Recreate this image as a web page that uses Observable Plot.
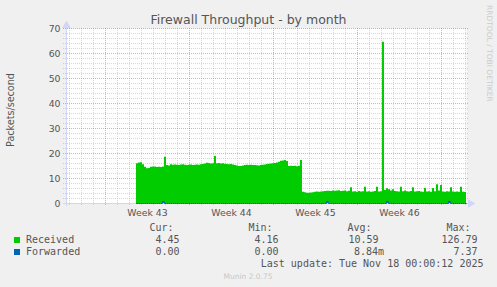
<!DOCTYPE html>
<html><head><meta charset="utf-8">
<script src="https://cdn.jsdelivr.net/npm/d3@7"></script>
<script src="https://cdn.jsdelivr.net/npm/@observablehq/plot@0.6"></script>
<style>
html,body{margin:0;padding:0;background:#f0f0f0;}
#chart{position:relative;width:497px;height:287px;overflow:hidden;background:#f0f0f0;}
</style></head><body><div id="chart"></div>
<script>
// ---- data ----
const title = "Firewall Throughput - by month";
const yLabel = "Packets/second";
const domainStart = "2025-10-15T18:00:00Z";
const domainEnd = "2025-11-18T02:00:00Z";
const startTime = "2025-10-21T14:00:00Z"; // first sample
const stepHours = 4;
const received = [
  15.9,16.2,16.3,15.5,14.5,13.9,14.0,14.5,14.6,14.6,14.4,14.5,14.4,14.6,
  18.5,15.2,15.0,15.5,
  15.3,15.4,15.3,15.2,15.4,15.5,15.3,15.2,15.3,15.4,15.2,15.3,15.4,15.3,
  15.5,15.6,15.8,16.1,16.0,15.8,15.9,
  18.8,
  15.9,16.0,15.8,15.9,15.7,15.6,15.5,15.6,15.4,
  15.2,15.0,14.8,14.8,15.0,15.2,15.3,15.2,15.3,15.2,
  15.2,15.1,15.0,15.2,15.3,15.4,15.6,15.7,15.8,15.9,
  16.0,16.2,16.5,16.9,17.0,17.2,16.8,
  14.8,14.9,14.8,14.9,14.7,14.9,
  17.2,
  4.5,4.3,4.1,4.1,4.2,4.3,4.5,4.6,4.5,4.6,4.7,4.8,4.9,
  4.9,4.8,5.0,4.9,5.0,5.1,4.8,4.9,5.0,4.7,4.9,6.3,
  4.6,4.7,4.5,4.8,4.6,4.7,6.5,4.6,4.7,4.5,4.6,4.8,6.5,4.6,4.7,
  64.5,
  5.2,5.9,5.5,5.0,5.5,4.8,4.7,4.6,
  6.5,
  4.7,5.0,4.7,4.6,4.8,
  6.3,
  4.6,4.7,4.8,4.6,4.5,
  6.0,
  4.6,4.7,4.5,
  6.0,
  4.7,
  7.5,
  5.0,
  7.2,
  4.6,4.5,4.7,4.6,
  6.3,
  4.6,4.5,4.6,4.5,
  6.5,
  4.5,4.45
];
const forwardedIdx = [13, 95, 125, 156];
const forwardedVal = [0.8, 0.7, 0.8, 0.8];
const yTicks = [0, 10, 20, 30, 40, 50, 60, 70];
const weekLabels = ["Week 43", "Week 44", "Week 45", "Week 46"];
const weekLabelTimes = ["2025-10-22T12:00:00Z", "2025-10-29T12:00:00Z", "2025-11-05T12:00:00Z", "2025-11-12T12:00:00Z"];
const legendSeries = ["Received", "Forwarded"];
const legendColors = ["#00cc00", "#0066b3"];
const statHeaders = ["Cur:", "Min:", "Avg:", "Max:"];
const statsReceived = ["4.45", "4.16", "10.59", "126.79"];
const statsForwarded = ["0.00", "0.00", "8.84m", "7.37"];
const lastUpdate = "Last update: Tue Nov 18 00:00:12 2025";
const footer = "Munin 2.0.75";
const watermark = "RRDTOOL / TOBI OETIKER";

// ---- build tables ----
const H = 3600e3;
const t0 = new Date(startTime).getTime();
const recRows = received.map((v, i) => ({t: new Date(t0 + i * stepHours * H), v}));
recRows.push({t: new Date(t0 + received.length * stepHours * H), v: received[received.length - 1]});
const fwdRows = recRows.map(r => ({t: r.t, v: 0}));
forwardedIdx.forEach((k, j) => { fwdRows[k].v = forwardedVal[j]; });

const d0 = new Date(domainStart), d1 = new Date(domainEnd);
const days = d3.utcDay.range(d0, d1);
const sundays = d3.utcSunday.range(d0, d1);
const minorDays = days.filter(d => d.getUTCDay() !== 0);
const minorY = d3.range(2, 71, 2).filter(v => v % 10 !== 0);
const majorY = yTicks.filter(v => v !== 0);
const weekDates = weekLabelTimes.map(s => new Date(s));
const labelMap = new Map(weekDates.map((d, i) => [+d, weekLabels[i]]));

const AXIS = "#cfd6f8";
const MINOR = "rgba(140,140,140,0.35)";
const MAJOR = "rgba(230,0,0,0.35)";

const plot = Plot.plot({
  width: 497, height: 287,
  marginTop: 28, marginBottom: 84, marginLeft: 66, marginRight: 31,
  style: {background: "transparent", fontFamily: "DejaVu Sans", fontSize: "9.33px", color: "#555", overflow: "visible"},
  x: {type: "utc", domain: [d0, d1], ticks: weekDates, tickFormat: d => labelMap.get(+d), tickSize: 0, tickPadding: 6, label: null},
  y: {domain: [0, 70], ticks: yTicks, tickSize: 0, tickPadding: 6, label: null},
  marks: [
    Plot.frame({fill: "white", stroke: null}),
    Plot.ruleX(minorDays, {stroke: MINOR, strokeDasharray: "1,1", insetBottom: -3}),
    Plot.ruleY(minorY, {stroke: MINOR, strokeDasharray: "1,1", insetLeft: -3, insetRight: -3}),
    Plot.ruleX(sundays, {stroke: MAJOR, strokeDasharray: "1,1", insetBottom: -3}),
    Plot.ruleY(majorY, {stroke: MAJOR, strokeDasharray: "1,1", insetLeft: -3, insetRight: -3}),
    Plot.areaY(recRows, {x: "t", y: "v", curve: "step-after", fill: legendColors[0]}),
    Plot.ruleY([0], {stroke: AXIS, insetLeft: -3, insetRight: -4}),
    Plot.ruleX([d0], {stroke: AXIS, insetTop: -3, insetBottom: -3}),
    Plot.areaY(fwdRows, {x: "t", y: "v", curve: "step-after", fill: legendColors[1]}),
    Plot.lineY(fwdRows, {x: "t", y: "v", curve: "step-after", stroke: legendColors[1], strokeWidth: 1}),
    Plot.dot([0], {frameAnchor: "top-left", symbol: "triangle", r: 3.2, fill: AXIS, stroke: null, dy: -3}),
    Plot.dot([0], {frameAnchor: "bottom-right", symbol: "triangle", r: 3.2, fill: AXIS, stroke: null, rotate: 90, dx: 4})
  ]
});
document.getElementById("chart").appendChild(plot);

// ---- texts ----
const svg = d3.select(plot);
const FONT = "DejaVu Sans, sans-serif";
const MONO = "DejaVu Sans Mono, monospace";
const TXT = "#555";
svg.append("text").attr("x", 248.5).attr("y", 24).attr("text-anchor", "middle")
  .attr("font-family", FONT).attr("font-size", 12.5).attr("fill", TXT).text(title);
svg.append("text").attr("transform", "translate(14,110) rotate(-90)").attr("text-anchor", "middle")
  .attr("font-family", FONT).attr("font-size", 9.6).attr("fill", TXT).text(yLabel);
svg.append("text").attr("transform", "translate(486.5,5) rotate(90)").attr("text-anchor", "start")
  .attr("font-family", FONT).attr("font-size", 7.5).attr("fill", "#cccccc").text(watermark);

const hdrEnds = [173.5, 272.5, 371.5, 470.5];
statHeaders.forEach((h, i) => svg.append("text").attr("x", hdrEnds[i]).attr("y", 231)
  .attr("text-anchor", "end").attr("font-family", MONO).attr("font-size", 10).attr("fill", TXT).text(h));
const valEnds = [[179.5, 278.5, 378.5, 477.5], [179.5, 278.5, 384, 477.5]];
[statsReceived, statsForwarded].forEach((vals, r) => {
  const base = 243 + 12 * r;
  svg.append("rect").attr("x", 14).attr("y", base - 6).attr("width", 6).attr("height", 6).attr("fill", legendColors[r]);
  svg.append("text").attr("x", 26).attr("y", base).attr("text-anchor", "start").attr("font-family", MONO).attr("font-size", 10)
    .attr("fill", TXT).text(legendSeries[r]);
  vals.forEach((v, i) => svg.append("text").attr("x", valEnds[r][i]).attr("y", base).attr("text-anchor", "end")
    .attr("font-family", MONO).attr("font-size", 10).attr("fill", TXT).text(v));
});
svg.append("text").attr("x", 483.5).attr("y", 267).attr("text-anchor", "end")
  .attr("font-family", MONO).attr("font-size", 10).attr("fill", TXT).text(lastUpdate);
svg.append("text").attr("x", 248).attr("y", 279).attr("text-anchor", "middle")
  .attr("font-family", FONT).attr("font-size", 7.5).attr("fill", "#c8c8c8").text(footer);
</script></body></html>
